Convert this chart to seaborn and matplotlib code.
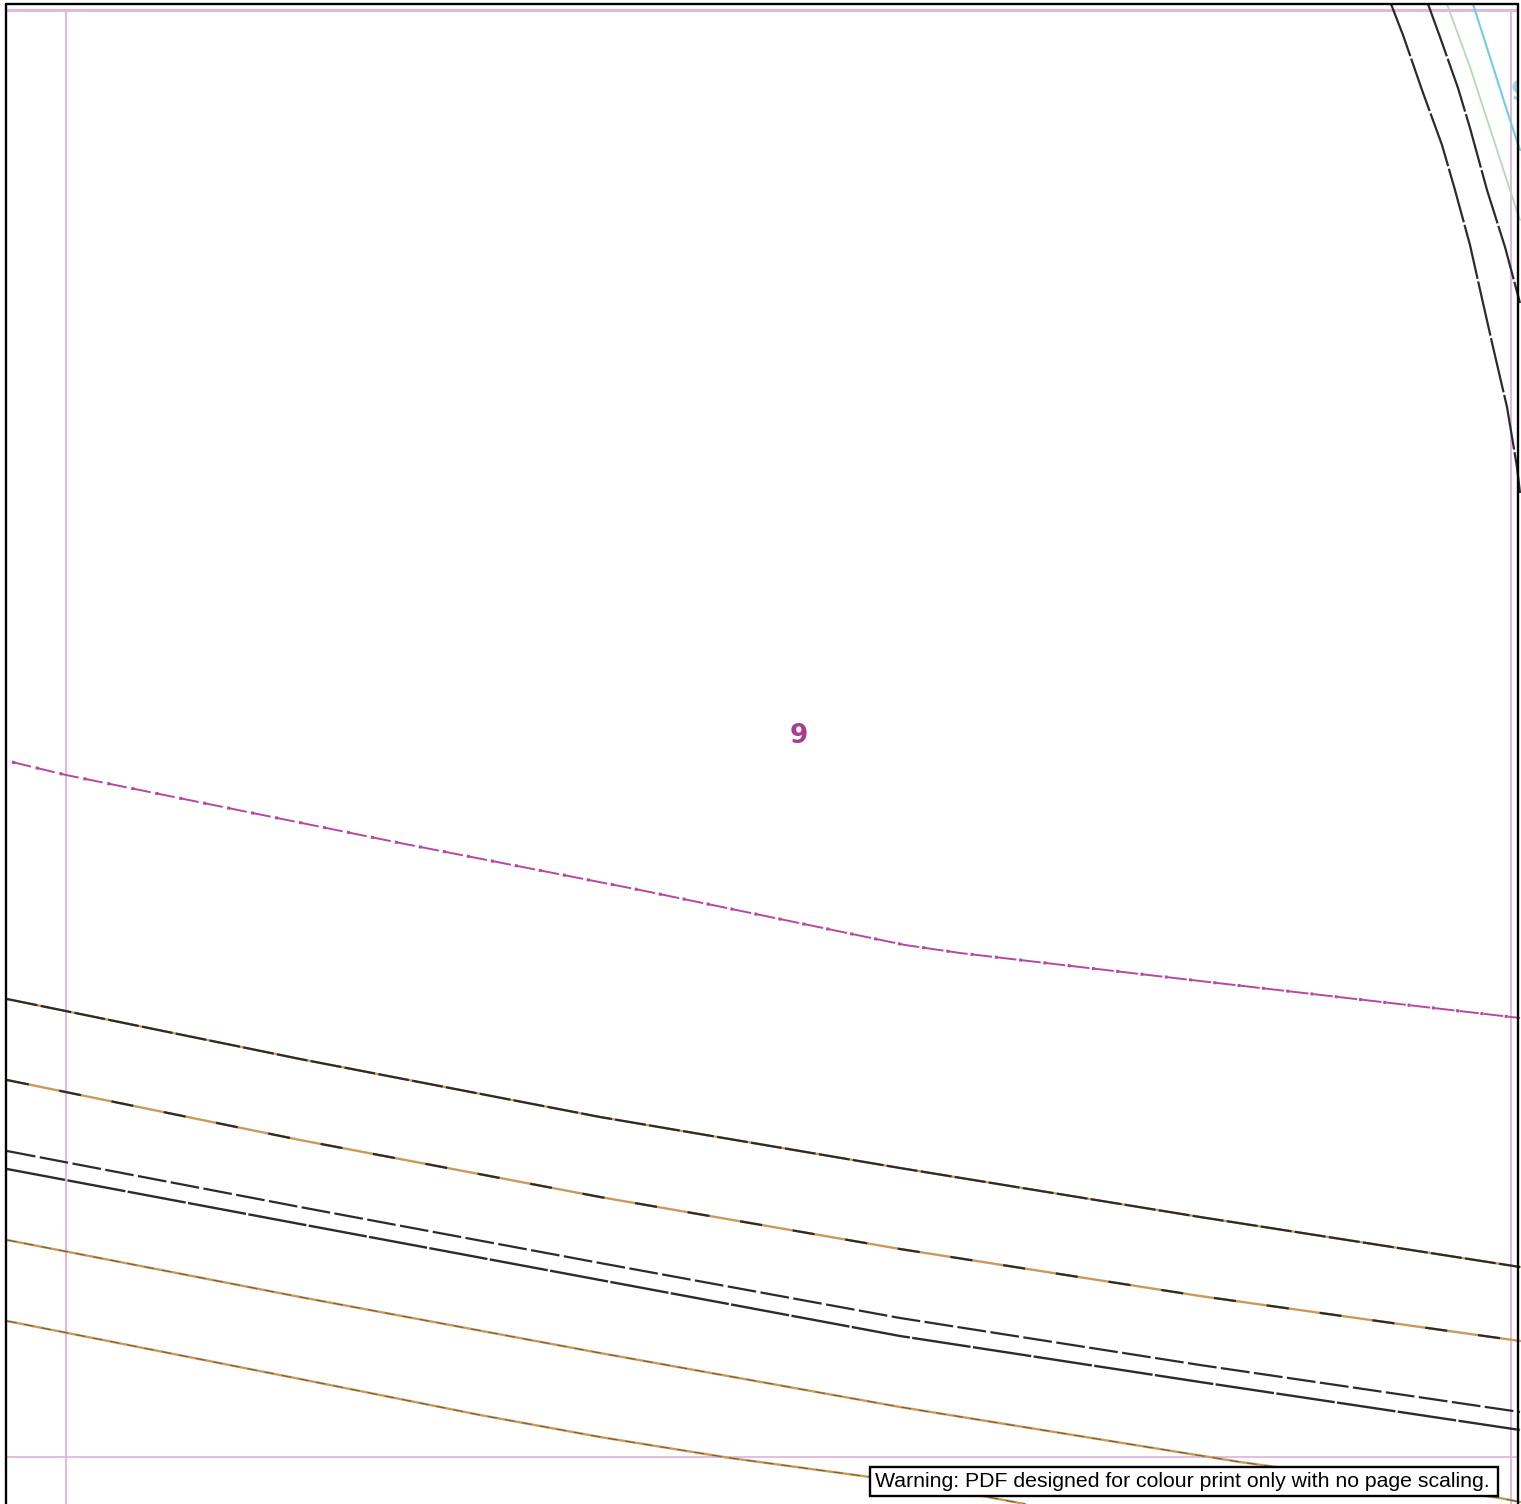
import pandas as pd
import seaborn as sns
import matplotlib.pyplot as plt
from matplotlib.patches import Rectangle

WIDTH, HEIGHT = 1521, 1504

# guide lines and page frame
guide_x = [66, 1511]
guide_y = [10, 1457]
frame_left, frame_right, frame_top = 6, 1518, 4

# pattern lines
stitch_x = [12, 66, 400, 640, 905, 960, 1200, 1520]
stitch_y = [762, 775, 843, 890, 945, 953, 981, 1018]

line1_x = [7, 300, 600, 900, 1200, 1520]
line1_y = [999, 1059, 1117, 1168, 1217, 1267]
line2_x = [7, 300, 600, 900, 1200, 1520]
line2_y = [1080, 1140, 1197, 1249, 1296, 1341]
line3_x = [7, 300, 600, 900, 1200, 1520]
line3_y = [1151, 1207, 1263, 1318, 1365, 1412]
line4_x = [7, 300, 600, 900, 1200, 1520]
line4_y = [1169, 1224, 1280, 1336, 1382, 1430]
line5_x = [7, 300, 600, 900, 1240, 1500, 1520]
line5_y = [1240, 1297, 1353, 1407, 1462, 1498, 1502]
line6_x = [7, 300, 480, 600, 730, 870, 950, 1025]
line6_y = [1321, 1379, 1415, 1437, 1458, 1477, 1490, 1504]

curve_a_x = [1391, 1403, 1422, 1442, 1455, 1470, 1483, 1493, 1507, 1517, 1520]
curve_a_y = [4, 35, 90, 145, 190, 245, 303, 347, 407, 467, 493]
curve_b_x = [1428, 1440, 1458, 1470, 1487, 1505, 1520]
curve_b_y = [4, 37, 88, 128, 190, 247, 303]
green_x = [1447, 1470, 1510, 1520]
green_y = [4, 67, 190, 220]
blue_x = [1473, 1510, 1520]
blue_y = [4, 120, 150]

size_label = '9'
warning_text = 'Warning: PDF designed for colour print only with no page scaling.'

PINK = '#e3b6de'
PURPLE = '#b4499f'
ORANGE = '#c99a5b'
DARK = '#2b2b2b'


def draw_line(ax, xs, ys, color, lw, dash=None):
    df = pd.DataFrame({'x': xs, 'y': ys})
    kws = {}
    if dash is not None:
        kws['linestyle'] = (0, dash)
    sns.lineplot(data=df, x='x', y='y', ax=ax, color=color, linewidth=lw,
                 sort=False, estimator=None, legend=False, zorder=3, **kws)


sns.set_theme(style='white')
plt.rcParams['font.family'] = ['Liberation Sans', 'DejaVu Sans']

fig = plt.figure(figsize=(WIDTH / 100, HEIGHT / 100), dpi=100)
ax = fig.add_axes([0, 0, 1, 1])
ax.set_xlim(0, WIDTH)
ax.set_ylim(HEIGHT, 0)
ax.axis('off')

# guides
for x in guide_x:
    ax.plot([x, x], [guide_y[0], HEIGHT], color=PINK, lw=1.4, zorder=1)
ax.plot([frame_left, frame_right], [guide_y[0], guide_y[0]], color=PINK, lw=2.2, zorder=1)
ax.plot([frame_left, frame_right], [guide_y[1], guide_y[1]], color=PINK, lw=1.3, zorder=1)

# stitching line, with the small ticks at the dash ends
draw_line(ax, stitch_x, stitch_y, PURPLE, 1.4, (10, 2.6))
draw_line(ax, stitch_x, stitch_y, PURPLE, 2.2, (1.0, 7.0))

# sloping lines at the bottom
draw_line(ax, line1_x, line1_y, ORANGE, 1.6)
draw_line(ax, line1_x, line1_y, DARK, 1.6, (14, 1.5))
draw_line(ax, line2_x, line2_y, ORANGE, 1.7)
draw_line(ax, line2_x, line2_y, DARK, 1.6, (10, 14))
draw_line(ax, line3_x, line3_y, DARK, 1.6, (13, 2))
draw_line(ax, line4_x, line4_y, DARK, 1.7, (25, 1))
draw_line(ax, line5_x, line5_y, ORANGE, 1.7)
draw_line(ax, line5_x, line5_y, '#6b5a3c', 0.7, (10, 8))
draw_line(ax, line6_x, line6_y, ORANGE, 1.7)
draw_line(ax, line6_x, line6_y, '#6b5a3c', 0.7, (10, 8))

# top right corner
draw_line(ax, green_x, green_y, '#b5d9b5', 1.3)
draw_line(ax, blue_x, blue_y, '#6fcde4', 1.5)
draw_line(ax, curve_a_x, curve_a_y, DARK, 1.6, (25, 1.2))
draw_line(ax, curve_b_x, curve_b_y, DARK, 1.6, (25, 1.2))

# frame on top of the lines
ax.plot([frame_left, frame_left], [frame_top, HEIGHT], color='black', lw=1.7, zorder=4)
ax.plot([frame_right, frame_right], [frame_top, HEIGHT], color='black', lw=1.7, zorder=4)
ax.plot([frame_left, frame_right], [frame_top, frame_top], color='black', lw=1.7, zorder=4)

# piece number, and the clipped one at the edge
ax.text(799, 736, size_label, color='#a83c92', fontsize=19, fontweight='bold',
        family='DejaVu Sans', ha='center', va='center', zorder=5)
ax.text(1520, 93, size_label, color='#9fd8ea', fontsize=19, fontweight='bold',
        family='DejaVu Sans', ha='center', va='center', zorder=2)
ax.add_patch(Rectangle((frame_right, 0), WIDTH - frame_right, HEIGHT, color='white', zorder=2.5))

# warning box
ax.add_patch(Rectangle((869.5, 1466.5), 628, 29.5, facecolor='white', edgecolor='black',
                       lw=1.7, zorder=6))
ax.text(875, 1481.5, warning_text, color='black', fontsize=15.3, ha='left', va='center', zorder=7)

fig.savefig('out.png', dpi=100)
plt.close(fig)
